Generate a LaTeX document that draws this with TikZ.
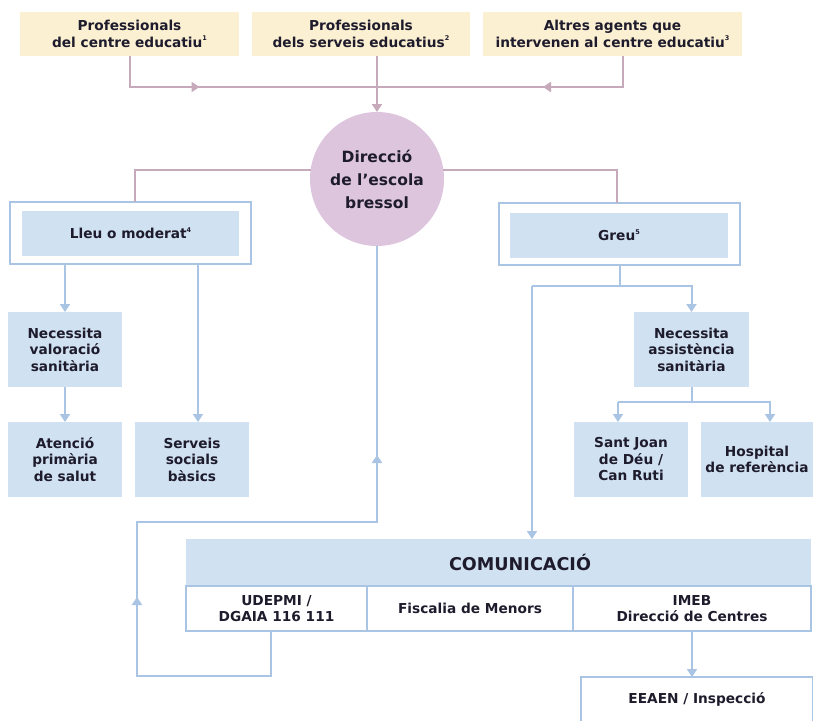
\documentclass[tikz,border=0pt]{standalone}
\usepackage{fontspec}
\setmainfont{DejaVu Sans}
\usepackage{xcolor}
\usetikzlibrary{arrows.meta,decorations.markings}
\definecolor{beige}{HTML}{FCF0D3}
\definecolor{lilac}{HTML}{DEC5DE}
\definecolor{paleblue}{HTML}{D0E1F2}
\definecolor{blueline}{HTML}{A9C5E3}
\definecolor{pinkline}{HTML}{C6A9BA}
\definecolor{ink}{HTML}{1E1C2C}
\newcommand{\fnote}[1]{\raisebox{0.85ex}{\fontsize{6.5}{7}\selectfont #1}}

\begin{document}
\begin{tikzpicture}[x=1pt, y=-1pt, >={Triangle[width=10pt,length=8pt]},
  txt/.style={font=\fontsize{13.7}{16.5}\selectfont\bfseries, text=ink,
    align=center, inner sep=0pt, outer sep=0pt},
  agent/.style={txt, fill=beige, minimum height=44pt},
  bluebox/.style={txt, fill=paleblue, minimum width=114pt, minimum height=75pt},
  frame/.style={draw=blueline, line width=2pt, fill=white,
    minimum width=241pt, minimum height=62pt, inner sep=0pt, outer sep=0pt},
  level/.style={txt, fill=paleblue, minimum width=217pt, minimum height=45pt},
  cell/.style={txt, draw=blueline, line width=2pt, minimum height=45pt},
  pinkarrow/.style={draw=pinkline, line width=2pt},
  bluearrow/.style={draw=blueline, line width=2pt},
  midarrow/.style={postaction={decorate},
    decoration={markings, mark=at position #1 with {\arrow{>}}}}]
\useasboundingbox (0,0) rectangle (813,720);

% --- Agents at the top ---
\node[agent, minimum width=219pt] (prof1) at (129.5,34)
  {Professionals\\del centre educatiu\fnote{1}};
\node[agent, minimum width=218pt] (prof2) at (361,34)
  {Professionals\\dels serveis educatius\fnote{2}};
\node[agent, minimum width=259pt] (prof3) at (612.5,34)
  {Altres agents que\\intervenen al centre educatiu\fnote{3}};

% Direction of the nursery school
\node[circle, fill=lilac, minimum size=134pt, inner sep=0pt, outer sep=0pt,
  font=\fontsize{15.5}{23}\selectfont\bfseries, text=ink, align=center]
  (dir) at (377,179) {Direcció\\de l’escola\\bressol};

% Joining the three agents
\coordinate (join) at (377,87);
\coordinate (p3) at ([xshift=10.5pt]prof3.south);
\draw[pinkarrow, midarrow=101pt] (prof1.south) -- (prof1.south |- join) -- (join);
\draw[pinkarrow, midarrow=111pt] (p3) -- (p3 |- join) -- (join);
\draw[pinkarrow, ->] (prof2.south -| join) -- (dir.north);

% --- Two levels ---
\node[frame] (lleuframe) at (130.5,233) {};
\node[level] (lleu) at (130.5,233.5) {Lleu o moderat\fnote{4}};
\node[frame] (greuframe) at (619.5,234) {};
\node[level, minimum width=218pt] (greu) at (619,235.5) {Greu\fnote{5}};
\draw[pinkarrow] (dir.172) -| ([xshift=4.5pt]lleuframe.north);
\draw[pinkarrow] (dir.8) -| ([xshift=-2.5pt]greuframe.north);

% Mild or moderate
\node[bluebox] (valor) at (65,349.5) {Necessita\\valoració\\sanitària};
\node[bluebox] (atencio) at (65,459.5) {Atenció\\primària\\de salut};
\node[bluebox] (serveis) at (192,459.5) {Serveis\\socials\\bàsics};
\draw[bluearrow, ->] (lleuframe.south -| valor.north) -- (valor.north);
\draw[bluearrow, ->] ([xshift=6pt]serveis.north |- lleuframe.south)
  -- ([xshift=6pt]serveis.north);
\draw[bluearrow, ->] (valor) -- (atencio);

% Serious
\node[bluebox, minimum width=115pt] (assist) at (691.5,349.5)
  {Necessita\\assistència\\sanitària};
\node[bluebox] (sjd) at (631,459.5) {Sant Joan\\de Déu /\\Can Ruti};
\node[bluebox, minimum width=112pt] (hosp) at (757,459.5) {Hospital\\de referència};
\coordinate (gbar) at (532,286);
\coordinate (abar) at (618,402);
\draw[bluearrow] (greuframe.south) -- (greuframe.south |- gbar);
\draw[bluearrow, ->] (gbar) -| (assist.north);
\draw[bluearrow] (assist.south) -- (assist.south |- abar);
\draw[bluearrow, ->] (abar) -- (abar |- sjd.north);
\draw[bluearrow, ->] (abar) -| ([xshift=13pt]hosp.north);

% --- Communication table ---
\node[fill=paleblue, minimum width=625pt, minimum height=47pt, inner sep=0pt,
  outer sep=0pt] (commhead) at (498.5,562.5) {};
\node[txt, font=\fontsize{17.6}{20}\selectfont\bfseries] (commtitle)
  at (520,562.5) {COMUNICACIÓ};
\node[cell, minimum width=181pt] (udepmi) at (276.5,608.5) {UDEPMI /\\DGAIA 116 111};
\node[cell, minimum width=206pt] (fiscal) at (470,608.5) {Fiscalia de Menors};
\node[cell, minimum width=238pt] (imeb) at (692,608.5) {IMEB\\Direcció de Centres};
\node[cell, fill=white, minimum width=232pt] (eeaen) at (697,699.5) {EEAEN / Inspecció};
\draw[bluearrow, ->] (gbar) -- (gbar |- commhead.north);
\draw[bluearrow, ->] (imeb.south) -- (imeb.south |- eeaen.north);

% Feedback to the direction
\coordinate (loopL) at (137,676);
\coordinate (loopT) at (137,522);
\draw[bluearrow, postaction={decorate}, decoration={markings,
    mark=at position 258pt with {\arrow{>}},
    mark=at position 640pt with {\arrow{>}}}]
  ([xshift=-5.5pt]udepmi.south) |- (loopL) -- (loopT) -| (dir.south);

\end{tikzpicture}
\end{document}
